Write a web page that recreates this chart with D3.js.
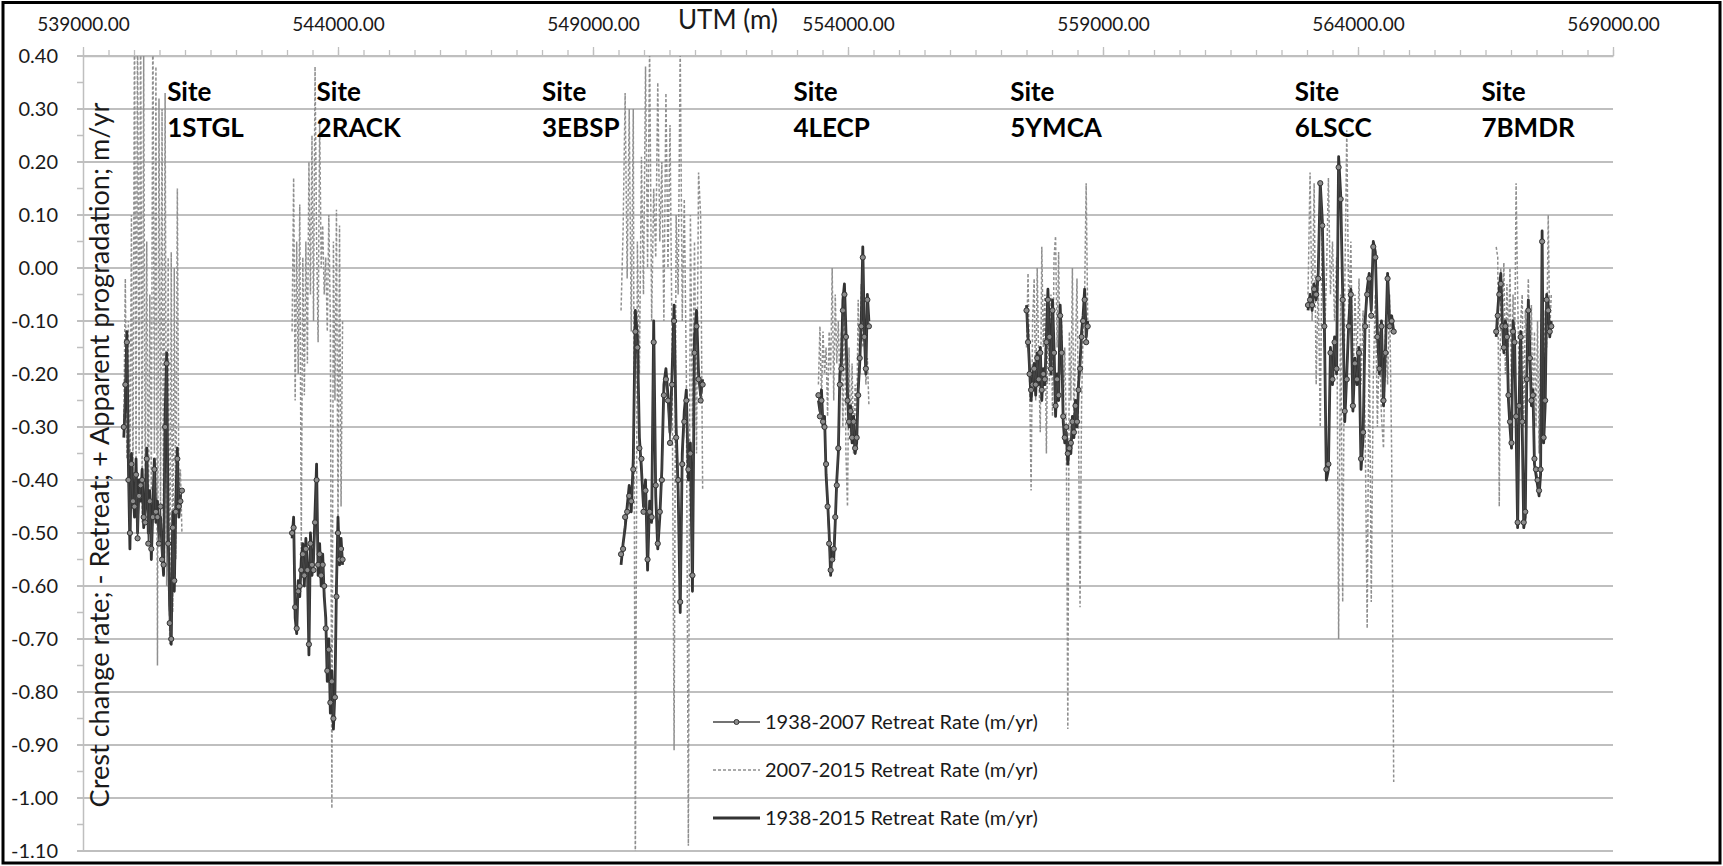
<!DOCTYPE html>
<html>
<head>
  <title>Crest change rate by site</title>
  <script src="https://d3js.org/d3.v7.min.js"></script>
  <style>
    body { margin: 0; background: #fff; }
  </style>
</head>
<body>
  <script>
    // ---- data ----
    const seriesNames = ["1938-2007 Retreat Rate (m/yr)", "2007-2015 Retreat Rate (m/yr)", "1938-2015 Retreat Rate (m/yr)"];
    const siteNames = ["1STGL", "2RACK", "3EBSP", "4LECP", "5YMCA", "6LSCC", "7BMDR"];
    const siteLabelUTM = [540650, 543580, 548000, 552930, 557180, 562760, 566420];
    const xTicks = [539000, 544000, 549000, 554000, 559000, 564000, 569000];
    const yTicks = [0.40, 0.30, 0.20, 0.10, 0.00, -0.10, -0.20, -0.30, -0.40, -0.50, -0.60, -0.70, -0.80, -0.90, -1.00, -1.10];

    const site1X = [539800,539830,539860,539890,539920,539950,539980,540010,540040,540070,540100,540130,540160,540190,540220,540250,540280,540310,540340,540370,540400,540430,540460,540490,540520,540550,540580,540610,540640,540670,540700,540730,540760,540790,540820,540850,540880,540910,540940];
    const site1Rate3807 = [-0.30,-0.22,-0.14,-0.40,-0.50,-0.37,-0.44,-0.45,-0.39,-0.51,-0.43,-0.41,-0.40,-0.47,-0.48,-0.36,-0.52,-0.44,-0.53,-0.47,-0.38,-0.46,-0.47,-0.52,-0.45,-0.55,-0.56,-0.30,-0.18,-0.52,-0.67,-0.70,-0.49,-0.59,-0.46,-0.36,-0.45,-0.44,-0.42];
    const site1Rate0715 = [-0.30,-0.02,-0.36,-0.10,-0.42,0.10,-0.45,0.50,-0.40,0.50,-0.35,0.50,-0.48,0.40,-0.45,0.05,-0.50,-0.05,-0.42,0.50,-0.35,0.38,-0.75,0.32,-0.45,0.30,-0.55,0.33,-0.60,0.02,-0.71,0.03,-0.65,0.00,-0.55,0.15,-0.45,-0.38,-0.50];
    const site1Rate3815 = [-0.32,-0.25,-0.12,-0.37,-0.53,-0.35,-0.42,-0.47,-0.36,-0.50,-0.40,-0.44,-0.38,-0.49,-0.45,-0.34,-0.50,-0.42,-0.55,-0.45,-0.36,-0.48,-0.44,-0.50,-0.47,-0.53,-0.58,-0.28,-0.16,-0.50,-0.64,-0.71,-0.46,-0.61,-0.44,-0.34,-0.47,-0.43,-0.43];

    const site2X = [543100,543130,543160,543190,543220,543250,543280,543310,543340,543370,543400,543430,543460,543490,543520,543550,543580,543610,543640,543670,543700,543730,543760,543790,543820,543850,543880,543910,543940,543970,544000,544030,544060,544090];
    const site2Rate3807 = [-0.50,-0.49,-0.64,-0.68,-0.61,-0.60,-0.57,-0.54,-0.58,-0.53,-0.57,-0.71,-0.52,-0.56,-0.57,-0.48,-0.40,-0.56,-0.54,-0.58,-0.56,-0.60,-0.68,-0.76,-0.72,-0.82,-0.78,-0.85,-0.81,-0.62,-0.50,-0.55,-0.53,-0.55];
    const site2Rate0715 = [-0.12,0.17,-0.25,0.05,-0.20,0.12,-0.53,0.02,-0.24,0.05,-0.18,0.20,-0.05,0.25,-0.10,0.38,0.05,-0.14,0.28,0.00,0.08,-0.05,0.02,-0.12,0.10,-0.10,-1.02,0.05,-0.25,0.11,-0.50,0.08,-0.45,-0.10];
    const site2Rate3815 = [-0.51,-0.47,-0.66,-0.69,-0.59,-0.62,-0.55,-0.52,-0.60,-0.51,-0.56,-0.73,-0.50,-0.58,-0.55,-0.46,-0.37,-0.58,-0.52,-0.60,-0.54,-0.62,-0.66,-0.78,-0.70,-0.84,-0.76,-0.87,-0.80,-0.60,-0.47,-0.56,-0.51,-0.56];

    const site3X = [549550,549590,549630,549670,549710,549750,549790,549830,549870,549910,549950,549990,550030,550070,550110,550150,550190,550230,550270,550310,550350,550390,550430,550470,550510,550550,550590,550630,550670,550710,550750,550790,550830,550870,550910,550950,550990,551030,551070,551110,551150];
    const site3Rate3807 = [-0.54,-0.53,-0.47,-0.46,-0.43,-0.44,-0.38,-0.12,-0.15,-0.34,-0.36,-0.46,-0.42,-0.55,-0.46,-0.47,-0.14,-0.41,-0.52,-0.46,-0.40,-0.24,-0.21,-0.25,-0.33,-0.22,-0.10,-0.32,-0.40,-0.63,-0.37,-0.29,-0.25,-0.38,-0.35,-0.58,-0.16,-0.11,-0.21,-0.25,-0.22];
    const site3Rate0715 = [-0.08,0.07,0.33,-0.02,0.30,-0.12,0.30,-1.15,0.05,-0.20,0.21,-0.05,0.38,0.00,0.42,-0.10,0.15,0.02,0.35,0.05,0.20,-0.10,0.33,0.00,0.27,-0.15,-0.91,0.10,-0.05,0.42,-0.10,0.13,-0.20,-1.09,0.10,-0.30,0.05,-0.35,0.18,0.10,-0.42];
    const site3Rate3815 = [-0.56,-0.52,-0.49,-0.45,-0.41,-0.46,-0.36,-0.08,-0.13,-0.32,-0.38,-0.45,-0.40,-0.57,-0.44,-0.48,-0.10,-0.43,-0.53,-0.47,-0.38,-0.22,-0.19,-0.24,-0.31,-0.20,-0.07,-0.30,-0.42,-0.65,-0.35,-0.27,-0.23,-0.40,-0.33,-0.61,-0.13,-0.08,-0.20,-0.24,-0.21];

    const site4X = [553420,553450,553480,553510,553540,553570,553600,553630,553660,553690,553720,553750,553780,553810,553840,553870,553900,553930,553960,553990,554020,554050,554080,554110,554140,554170,554200,554230,554260,554290,554320,554350,554380,554410];
    const site4Rate3807 = [-0.24,-0.28,-0.25,-0.29,-0.30,-0.37,-0.45,-0.52,-0.57,-0.55,-0.53,-0.47,-0.41,-0.34,-0.22,-0.19,-0.08,-0.05,-0.13,-0.25,-0.29,-0.27,-0.32,-0.29,-0.34,-0.32,-0.24,-0.17,-0.11,0.02,-0.13,-0.19,-0.06,-0.11];
    const site4Rate0715 = [-0.22,-0.11,-0.25,-0.12,-0.20,-0.15,-0.28,-0.12,-0.20,0.00,-0.25,-0.05,-0.18,-0.10,-0.22,-0.12,-0.30,-0.05,-0.35,-0.45,-0.15,-0.32,-0.18,-0.35,-0.22,-0.30,-0.06,-0.20,-0.03,-0.15,-0.08,-0.22,-0.17,-0.26];
    const site4Rate3815 = [-0.25,-0.27,-0.23,-0.30,-0.28,-0.39,-0.44,-0.50,-0.58,-0.53,-0.55,-0.48,-0.40,-0.35,-0.20,-0.18,-0.06,-0.03,-0.12,-0.24,-0.30,-0.26,-0.33,-0.28,-0.35,-0.33,-0.23,-0.18,-0.10,0.04,-0.12,-0.20,-0.05,-0.10];

    const site5X = [557500,557530,557560,557590,557620,557650,557680,557710,557740,557770,557800,557830,557860,557890,557920,557950,557980,558010,558040,558070,558100,558130,558160,558190,558220,558250,558280,558310,558340,558370,558400,558430,558460,558490,558520,558550,558580,558610,558640,558670,558700];
    const site5Rate3807 = [-0.08,-0.14,-0.20,-0.23,-0.22,-0.19,-0.22,-0.17,-0.21,-0.16,-0.23,-0.20,-0.21,-0.14,-0.06,-0.13,-0.19,-0.08,-0.16,-0.26,-0.21,-0.24,-0.09,-0.16,-0.28,-0.32,-0.30,-0.35,-0.34,-0.33,-0.29,-0.31,-0.26,-0.29,-0.23,-0.19,-0.13,-0.10,-0.06,-0.14,-0.11];
    const site5Rate0715 = [-0.15,-0.01,-0.20,-0.42,-0.10,-0.02,-0.25,0.00,-0.18,-0.31,0.04,-0.15,-0.05,-0.35,-0.10,-0.22,-0.05,-0.28,0.02,0.06,-0.15,0.03,-0.20,-0.10,-0.28,-0.15,-0.30,-0.87,-0.12,-0.25,0.00,-0.30,-0.15,-0.02,-0.30,-0.64,-0.25,-0.12,-0.05,0.16,-0.10];
    const site5Rate3815 = [-0.07,-0.13,-0.19,-0.25,-0.21,-0.18,-0.24,-0.16,-0.22,-0.15,-0.25,-0.19,-0.22,-0.13,-0.04,-0.12,-0.20,-0.06,-0.15,-0.28,-0.20,-0.25,-0.07,-0.15,-0.29,-0.33,-0.31,-0.37,-0.33,-0.35,-0.28,-0.32,-0.25,-0.30,-0.22,-0.18,-0.12,-0.09,-0.04,-0.13,-0.10];

    const site6X = [563020,563060,563100,563140,563180,563220,563260,563300,563340,563380,563420,563460,563500,563540,563580,563620,563660,563700,563740,563780,563820,563860,563900,563940,563980,564020,564060,564100,564140,564180,564220,564260,564300,564340,564380,564420,564460,564500,564540,564580,564620,564660,564700];
    const site6Rate3807 = [-0.07,-0.06,-0.07,-0.04,-0.05,-0.02,0.16,0.08,-0.11,-0.38,-0.37,-0.16,-0.21,-0.14,-0.19,0.19,0.13,-0.06,-0.27,-0.21,-0.11,-0.05,-0.26,-0.18,-0.21,-0.16,-0.36,-0.31,-0.11,-0.05,-0.02,-0.09,0.04,0.02,-0.13,-0.19,-0.11,-0.25,-0.16,-0.02,-0.11,-0.10,-0.12];
    const site6Rate0715 = [-0.05,0.18,-0.10,0.16,-0.22,-0.02,-0.30,0.10,-0.15,-0.02,0.17,-0.05,0.05,-0.10,0.02,-0.70,-0.05,-0.63,-0.05,0.26,-0.10,0.05,-0.25,-0.05,-0.18,-0.02,-0.22,-0.08,-0.30,-0.68,-0.10,-0.63,-0.20,-0.05,-0.30,-0.12,-0.28,-0.34,-0.10,-0.22,-0.05,-0.35,-0.97];
    const site6Rate3815 = [-0.08,-0.05,-0.08,-0.03,-0.06,-0.01,0.16,0.09,-0.10,-0.40,-0.38,-0.15,-0.22,-0.13,-0.20,0.21,0.14,-0.05,-0.29,-0.20,-0.10,-0.04,-0.27,-0.17,-0.22,-0.15,-0.38,-0.32,-0.10,-0.04,-0.01,-0.08,0.05,0.03,-0.12,-0.20,-0.10,-0.26,-0.15,-0.01,-0.10,-0.09,-0.12];

    const site7X = [566710,566740,566770,566800,566830,566860,566890,566920,566950,566980,567010,567040,567070,567100,567130,567160,567190,567220,567250,567280,567310,567340,567370,567400,567430,567460,567490,567520,567550,567580,567610,567640,567670,567700,567730,567760,567790];
    const site7Rate3807 = [-0.12,-0.09,-0.05,-0.03,-0.11,-0.15,-0.11,-0.13,-0.24,-0.29,-0.33,-0.12,-0.14,-0.28,-0.48,-0.26,-0.13,-0.29,-0.48,-0.46,-0.21,-0.08,-0.17,-0.25,-0.24,-0.36,-0.38,-0.40,-0.42,-0.38,0.05,-0.32,-0.25,-0.06,-0.08,-0.12,-0.11];
    const site7Rate0715 = [0.04,0.02,-0.45,0.00,-0.10,0.01,-0.20,-0.03,-0.15,0.00,-0.25,-0.05,-0.18,0.16,-0.05,-0.22,-0.10,-0.05,-0.30,-0.08,-0.15,-0.02,-0.20,-0.07,-0.28,-0.12,-0.30,-0.10,-0.35,-0.15,-0.05,-0.20,-0.08,-0.15,0.10,-0.12,-0.05];
    const site7Rate3815 = [-0.13,-0.08,-0.04,-0.01,-0.10,-0.16,-0.10,-0.12,-0.25,-0.30,-0.34,-0.10,-0.13,-0.30,-0.49,-0.25,-0.12,-0.30,-0.49,-0.47,-0.20,-0.06,-0.16,-0.26,-0.23,-0.37,-0.39,-0.41,-0.43,-0.39,0.07,-0.33,-0.26,-0.05,-0.07,-0.13,-0.10];

    const sites = [
      { x: site1X, r3807: site1Rate3807, r0715: site1Rate0715, r3815: site1Rate3815 },
      { x: site2X, r3807: site2Rate3807, r0715: site2Rate0715, r3815: site2Rate3815 },
      { x: site3X, r3807: site3Rate3807, r0715: site3Rate0715, r3815: site3Rate3815 },
      { x: site4X, r3807: site4Rate3807, r0715: site4Rate0715, r3815: site4Rate3815 },
      { x: site5X, r3807: site5Rate3807, r0715: site5Rate0715, r3815: site5Rate3815 },
      { x: site6X, r3807: site6Rate3807, r0715: site6Rate0715, r3815: site6Rate3815 },
      { x: site7X, r3807: site7Rate3807, r0715: site7Rate0715, r3815: site7Rate3815 }
    ];

    // ---- layout ----
    const W = 1723, H = 866;
    const plotL = 83, plotR = 1613, plotT = 56, plotB = 851;
    const font = "Lato, 'Open Sans', sans-serif";
    const gridColor = "#bfbfbf";

    const svg = d3.select("body").append("svg")
      .attr("width", W).attr("height", H)
      .style("display", "block");
    svg.append("rect").attr("width", W).attr("height", H).attr("fill", "#fff");

    const xScale = d3.scaleLinear().domain([539000, 569000]).range([plotL, plotR]);
    const yScale = d3.scaleLinear().domain([-1.10, 0.40]).range([plotB, plotT]);

    // shrink/grow a text so it fills a measured width
    function fitWidth(sel, target) {
      const w = sel.node().getComputedTextLength();
      const fs = parseFloat(sel.attr("font-size"));
      if (w > 0) sel.attr("font-size", fs * target / w);
    }

    // horizontal gridlines (they also act as the major y ticks)
    svg.append("g").selectAll("line").data(yTicks).join("line")
      .attr("x1", plotL - 6).attr("x2", plotR)
      .attr("y1", d => yScale(d)).attr("y2", d => yScale(d))
      .attr("stroke", gridColor).attr("stroke-width", 1.8);

    // y axis
    const yAxisG = svg.append("g").attr("transform", `translate(${plotL},0)`)
      .call(d3.axisLeft(yScale).tickValues(yTicks).tickFormat(d => d.toFixed(2))
        .tickSize(0).tickSizeOuter(0).tickPadding(25));
    yAxisG.select(".domain").attr("stroke", gridColor).attr("stroke-width", 1.5);
    yAxisG.selectAll("text").attr("font-family", font).attr("font-size", 20).attr("fill", "#1a1a1a");
    // minor y ticks halfway between gridlines
    svg.append("g").selectAll("line").data(yTicks.slice(1)).join("line")
      .attr("x1", plotL - 6).attr("x2", plotL)
      .attr("y1", d => yScale(d + 0.05)).attr("y2", d => yScale(d + 0.05))
      .attr("stroke", gridColor).attr("stroke-width", 1.5);

    // top x axis
    const minorG = svg.append("g").attr("transform", `translate(0,${plotT})`)
      .call(d3.axisTop(xScale).tickValues(d3.range(539000, 569001, 500)).tickFormat("").tickSize(6).tickSizeOuter(0));
    minorG.select(".domain").attr("stroke", gridColor).attr("stroke-width", 1.5);
    minorG.selectAll(".tick line").attr("stroke", gridColor).attr("stroke-width", 1.3);

    const topAxisG = svg.append("g").attr("transform", `translate(0,${plotT})`)
      .call(d3.axisTop(xScale).tickValues(xTicks).tickFormat(d => d.toFixed(2)).tickSize(9).tickSizeOuter(0).tickPadding(16));
    topAxisG.select(".domain").remove();
    topAxisG.selectAll(".tick line").attr("stroke", gridColor).attr("stroke-width", 1.3);
    topAxisG.selectAll("text").attr("font-family", font).attr("font-size", 19).attr("fill", "#1a1a1a");

    svg.append("text")
      .attr("x", 678).attr("y", 29)
      .attr("font-family", font).attr("font-size", 26).attr("fill", "#1a1a1a")
      .text("UTM (m)");

    // y axis title, sits inside the plot next to the axis
    const yTitle = svg.append("text")
      .attr("transform", "translate(109,455) rotate(-90)")
      .attr("text-anchor", "middle")
      .attr("font-family", font).attr("font-size", 26).attr("fill", "#1a1a1a")
      .text("Crest change rate; - Retreat; + Apparent progradation; m/yr");
    fitWidth(yTitle, 705);

    // ---- series ----
    svg.append("defs").append("clipPath").attr("id", "plotClip")
      .append("rect").attr("x", plotL).attr("y", plotT)
      .attr("width", plotR - plotL).attr("height", plotB - plotT);

    const plot = svg.append("g").attr("clip-path", "url(#plotClip)");
    const line = d3.line().x(d => xScale(d[0])).y(d => yScale(d[1]));

    const darkLine = "#333333";
    const dashColor = "#8f8f8f";

    sites.forEach(s => {
      plot.append("path")
        .datum(s.x.map((v, i) => [v, s.r0715[i]]))
        .attr("fill", "none").attr("stroke", dashColor)
        .attr("stroke-width", 1.5).attr("stroke-dasharray", "3,2")
        .attr("d", line);
    });

    sites.forEach(s => {
      plot.append("path")
        .datum(s.x.map((v, i) => [v, s.r3815[i]]))
        .attr("fill", "none").attr("stroke", darkLine)
        .attr("stroke-width", 2.8).attr("stroke-linejoin", "round")
        .attr("d", line);
    });

    sites.forEach(s => {
      const pts = s.x.map((v, i) => [v, s.r3807[i]]);
      plot.append("path")
        .datum(pts)
        .attr("fill", "none").attr("stroke", "#444")
        .attr("stroke-width", 1.2)
        .attr("d", line);
      plot.append("g").selectAll("circle").data(pts).join("circle")
        .attr("cx", d => xScale(d[0])).attr("cy", d => yScale(d[1]))
        .attr("r", 2.6)
        .attr("fill", "#8c8c8c").attr("stroke", "#333").attr("stroke-width", 1);
    });

    // ---- site labels ----
    const labels = svg.append("g")
      .attr("font-family", font).attr("font-weight", "bold")
      .attr("font-size", 26).attr("fill", "#000");
    siteNames.forEach((name, i) => {
      labels.append("text").attr("x", xScale(siteLabelUTM[i])).attr("y", plotT + 45).text("Site");
      labels.append("text").attr("x", xScale(siteLabelUTM[i])).attr("y", plotT + 81).text(name);
    });

    // ---- legend ----
    const legend = svg.append("g");
    const legendRows = [722, 770, 818];
    seriesNames.forEach((name, i) => {
      const ly = legendRows[i];
      const ln = legend.append("line")
        .attr("x1", 713).attr("x2", 760).attr("y1", ly).attr("y2", ly);
      if (i === 0) {
        ln.attr("stroke", "#444").attr("stroke-width", 1.4);
        legend.append("circle").attr("cx", 736.5).attr("cy", ly).attr("r", 2.5)
          .attr("fill", "#8c8c8c").attr("stroke", "#333").attr("stroke-width", 1);
      } else if (i === 1) {
        ln.attr("stroke", dashColor).attr("stroke-width", 1.5).attr("stroke-dasharray", "3,2");
      } else {
        ln.attr("stroke", darkLine).attr("stroke-width", 2.8);
      }
      const t = legend.append("text")
        .attr("x", 765).attr("y", ly + 7)
        .attr("font-family", font).attr("font-size", 20).attr("fill", "#1a1a1a")
        .text(name);
      fitWidth(t, 273);
    });

    // outer frame
    svg.append("rect")
      .attr("x", 3).attr("y", 2.5).attr("width", 1717).attr("height", 860.5)
      .attr("fill", "none").attr("stroke", "#000").attr("stroke-width", 3);
  </script>
</body>
</html>
